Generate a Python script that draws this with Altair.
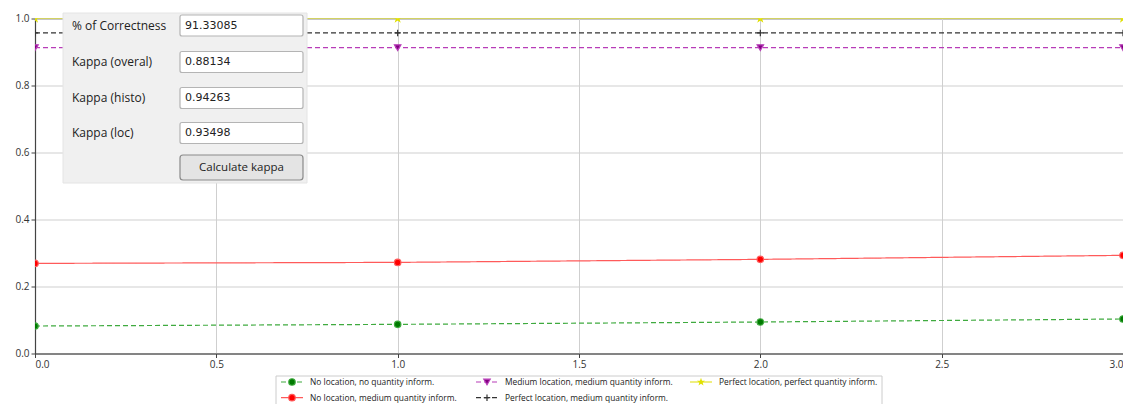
import altair as alt
import pandas as pd

# ---------------- data ----------------
x_vals = [0, 1, 2, 3]
series_names = [
    "No location, no quantity inform.",
    "No location, medium quantity inform.",
    "Medium location, medium quantity inform.",
    "Perfect location, medium quantity inform.",
    "Perfect location, perfect quantity inform.",
]
green_vals = [0.082, 0.087, 0.094, 0.103]
red_vals = [0.269, 0.272, 0.281, 0.293]
purple_vals = [0.913, 0.913, 0.913, 0.913]
black_vals = [0.957, 0.957, 0.957, 0.957]
yellow_vals = [1.0, 1.0, 1.0, 1.0]

panel_labels = ["% of Correctness", "Kappa (overal)", "Kappa (histo)", "Kappa (loc)"]
panel_values = ["91.33085", "0.88134", "0.94263", "0.93498"]
button_label = "Calculate kappa"

x_ticks = [0, 0.5, 1.0, 1.5, 2.0, 2.5, 3.0]
y_ticks = [0, 0.2, 0.4, 0.6, 0.8, 1.0]

# ---------------- styles ----------------
marker_colors = ["#007a00", "#ff0000", "#800080", "#000000", "#f2f200"]
line_colors = ["#3faa3f", "#ff5a5a", "#b83cb8", "#333333", "#e0e000"]
dashes = [[5, 3], [1, 0], [5, 3], [5, 3], [1, 0]]
STAR = "M0,-1L0.2245,-0.309L0.951,-0.309L0.363,0.118L0.588,0.809L0,0.382L-0.588,0.809L-0.363,0.118L-0.951,-0.309L-0.2245,-0.309Z"
PLUS = "M-1,0L1,0M0,-1L0,1"
shapes = ["circle", "circle", "triangle-down", PLUS, STAR]
sizes = [42, 42, 42, 42, 22]

rows = []
for name, vals in zip(series_names, [green_vals, red_vals, purple_vals, black_vals, yellow_vals]):
    for xv, yv in zip(x_vals, vals):
        rows.append({"x": xv, "y": yv, "series": name})
df = pd.DataFrame(rows)

W, H = 1088, 335
FONT = "Open Sans"

xs = alt.X("x:Q", scale=alt.Scale(domain=[0, 3], nice=False, zero=False),
           axis=alt.Axis(values=x_ticks, format=".1f", title=None))
ys = alt.Y("y:Q", scale=alt.Scale(domain=[0, 1], nice=False),
           axis=alt.Axis(values=y_ticks, format=".1f", title=None))

stroke_enc = alt.Stroke("series:N", scale=alt.Scale(domain=series_names, range=line_colors), legend=None)
dash_enc = alt.StrokeDash("series:N", scale=alt.Scale(domain=series_names, range=dashes), legend=None)

lines = alt.Chart(df).mark_line(strokeWidth=1.2, clip=True).encode(
    x=xs, y=ys, stroke=stroke_enc, strokeDash=dash_enc, detail="series:N"
)
points = alt.Chart(df).mark_point(filled=True, strokeWidth=1.2, opacity=1, clip=True).encode(
    x=xs, y=ys,
    fill=alt.Fill("series:N", scale=alt.Scale(domain=series_names, range=marker_colors), legend=None),
    stroke=stroke_enc,
    shape=alt.Shape("series:N", scale=alt.Scale(domain=series_names, range=shapes), legend=None),
    size=alt.Size("series:N", scale=alt.Scale(domain=series_names, range=sizes), legend=None),
)

base = alt.Chart(pd.DataFrame({"d": [0]}))
layers = [lines, points]

# ---------------- overlay panel ----------------
layers.append(base.mark_rect(fill="#f0f0f0", stroke="#e4e4e4").encode(
    x=alt.value(28), x2=alt.value(272), y=alt.value(-5.5), y2=alt.value(164.5)))
row_centers = [7, 43.5, 79.5, 114.5]
for lab, val, cy in zip(panel_labels, panel_values, row_centers):
    layers.append(base.mark_text(text=lab, align="left", baseline="middle", font=FONT,
                                 fontSize=12, color="#222").encode(
        x=alt.value(37), y=alt.value(cy)))
    layers.append(base.mark_rect(fill="#ffffff", stroke="#b4b4b4", strokeWidth=1.2,
                                 cornerRadius=2).encode(
        x=alt.value(145), x2=alt.value(268), y=alt.value(cy - 10.5), y2=alt.value(cy + 10.5)))
    layers.append(base.mark_text(text=val, align="left", baseline="middle", font="DejaVu Sans",
                                 fontSize=11, color="#222").encode(
        x=alt.value(150), y=alt.value(cy)))
layers.append(base.mark_rect(fill="#e4e4e4", stroke="#8a8a8a", strokeWidth=1.2,
                             cornerRadius=3).encode(
    x=alt.value(145), x2=alt.value(268), y=alt.value(136.5), y2=alt.value(161.5)))
layers.append(base.mark_text(text=button_label, align="center", baseline="middle", font=FONT,
                             fontSize=11.5, color="#222").encode(
    x=alt.value(206.5), y=alt.value(149)))

# ---------------- legend (manual) ----------------
layers.append(base.mark_rect(fill="#ffffff", stroke="#cccccc").encode(
    x=alt.value(241), x2=alt.value(847), y=alt.value(357.5), y2=alt.value(395)))
leg_pos = [(246, 363.5), (246, 379.2), (441, 363.5), (441, 379.2), (655, 363.5)]
for i, (name, (lx, ly)) in enumerate(zip(series_names, leg_pos)):
    layers.append(base.mark_rule(stroke=line_colors[i], strokeWidth=1.2, strokeDash=dashes[i]).encode(
        x=alt.value(lx), x2=alt.value(lx + 22), y=alt.value(ly)))
    layers.append(base.mark_point(shape=shapes[i], filled=True, fill=marker_colors[i],
                                  stroke=line_colors[i], strokeWidth=1.2, size=sizes[i], opacity=1).encode(
        x=alt.value(lx + 11), y=alt.value(ly)))
    layers.append(base.mark_text(text=name, align="left", baseline="middle", font=FONT,
                                 fontSize=8.4, color="#222").encode(
        x=alt.value(lx + 29), y=alt.value(ly)))

chart = alt.layer(*layers).properties(
    width=W, height=H,
    autosize=alt.AutoSizeParams(type="none"),
    padding={"left": 27, "top": 10.5, "right": 0, "bottom": 50},
).configure_view(stroke="#777777", strokeWidth=1).configure_axis(
    labelFont=FONT, labelFontSize=10, labelColor="#333333",
    domainColor="#444444", domainWidth=1.2, tickColor="#444444", tickSize=4,
    gridColor="#cfcfcf", gridWidth=1, labelPadding=2,
)

chart.save("out.html", embed_options={"renderer": "svg", "actions": False})
